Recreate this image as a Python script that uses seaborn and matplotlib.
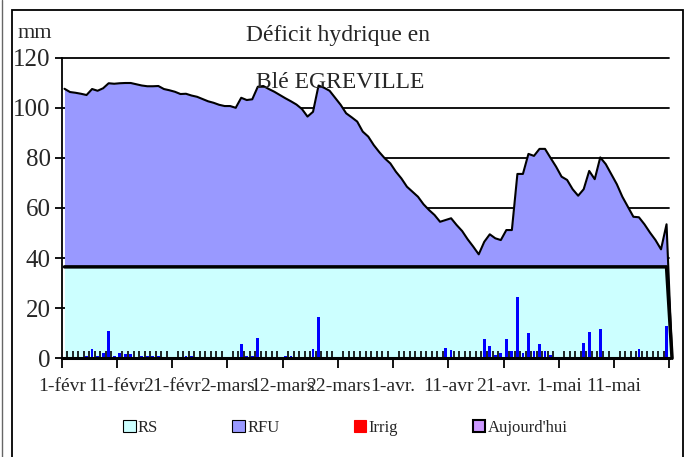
import numpy as np
import matplotlib
matplotlib.use("Agg")
import matplotlib.pyplot as plt
import seaborn as sns
from matplotlib.patches import Patch, Rectangle
from matplotlib.lines import Line2D

# ---- data (daily, 1 Feb -> 21 May) ----
day_index = list(range(111))

total_reserve = [
    107.6, 106.3, 106.0, 105.6, 105.1, 107.5, 106.8, 107.8, 109.8, 109.6,
    109.8, 109.9, 109.9, 109.4, 108.9, 108.6, 108.6, 108.7, 107.5, 107.0,
    106.4, 105.5, 105.6, 104.9, 104.4, 103.5, 102.6, 102.0, 101.2, 100.7,
    100.7, 100.0, 104.0, 103.1, 103.4, 108.4, 108.7, 107.5, 106.4, 105.1,
    103.8, 102.6, 101.3, 99.5, 96.5, 98.4, 108.9, 108.0, 106.8, 104.0,
    101.2, 97.8, 96.2, 94.5, 90.5, 88.5, 85.1, 82.3, 79.8, 77.8,
    74.5, 71.8, 68.5, 66.5, 64.5, 61.5, 59.2, 57.2, 54.5, 55.2,
    55.9, 53.2, 50.8, 47.5, 44.6, 41.5, 46.5, 49.5, 47.9, 47.2,
    51.2, 51.2, 73.6, 73.6, 81.6, 80.8, 83.6, 83.6, 80.0, 76.5,
    72.5, 71.2, 67.5, 64.9, 67.5, 74.8, 71.5, 80.2, 77.5, 73.5,
    69.5, 64.5, 60.5, 56.5, 56.3, 53.5, 50.2, 47.2, 43.5, 53.5,
    0.0,
]

rs_values = [36.5] * 110 + [0.0]

rain = [
    0, 0.5, 0, 0, 0.8, 3.6, 0.8, 2.2, 11.0, 0.8,
    2.2, 1.6, 1.6, 0, 0.8, 0.8, 0.8, 0.8, 0, 0,
    0, 0, 0.8, 0.8, 0, 0, 0, 0, 0.6, 0.6,
    0, 0, 5.6, 0.8, 0.8, 8.2, 0, 0, 0, 0.6,
    0.8, 0.8, 0.6, 0, 0, 3.6, 16.4, 0, 0.6, 0,
    0, 0, 0, 0.6, 0, 0, 0, 0, 0, 0,
    0, 0, 0.6, 0.6, 0, 0, 0.6, 0.6, 0, 4.0,
    3.3, 0.6, 0, 0, 0, 0, 7.6, 4.9, 1.3, 2.0,
    7.6, 2.9, 24.4, 2.1, 10.2, 2.9, 5.6, 2.9, 1.3, 0,
    0, 0, 0.6, 0, 6.2, 10.4, 0, 11.6, 0, 0,
    0, 0, 0.6, 0, 3.6, 0, 0.6, 0, 0.6, 12.9,
    0,
]

tick_labels = ["1-févr", "11-févr", "21-févr", "2-mars", "12-mars", "22-mars",
               "1-avr.", "11-avr", "21-avr.", "1-mai", "11-mai", ""]
y_ticks = [0, 20, 40, 60, 80, 100, 120]

legend_names = ["RS", "RFU", "Irrig", "Aujourd'hui"]
legend_colors = ["#CCFFFF", "#9999FF", "#FF0000", "#CC99FF"]

# ---- style ----
sns.set_style("white")
plt.rcParams["font.family"] = ["Liberation Serif", "DejaVu Serif"]

W, H = 691, 457
fig = plt.figure(figsize=(W / 100, H / 100), dpi=100)
left, right, top, bottom = 61.7, 669.3, 57.7, 358.3
ax = fig.add_axes([left / W, 1 - bottom / H, (right - left) / W, (bottom - top) / H])
ax.set_axisbelow(False)

# gridlines behind everything
for yv in y_ticks[1:]:
    ax.axhline(yv, color="black", lw=1.3, zorder=0.5)

ax.fill_between(day_index, 0, rs_values, color=legend_colors[0], lw=0, zorder=1, clip_on=False)
ax.fill_between(day_index, rs_values, total_reserve, color=legend_colors[1], lw=0, zorder=1, clip_on=False)

sns.barplot(x=day_index, y=rain, native_scale=True, color="#0000FF", saturation=1,
            width=0.5, linewidth=0, edgecolor="#0000FF", ax=ax, zorder=2)

sns.lineplot(x=day_index, y=total_reserve, color="black", lw=1.5, ax=ax, zorder=3)
sns.lineplot(x=day_index, y=rs_values, color="black", lw=2.5, ax=ax, zorder=3)
for ln in ax.lines:
    ln.set_clip_on(False)

ax.set_xlim(-0.5, 109.5)
ax.set_ylim(0, 120)
major = [-0.5 + 10 * k for k in range(12)]
minor = [-0.5 + k for k in range(111)]
ax.set_xticks(major)
ax.set_xticklabels(tick_labels, fontsize=14)
ax.set_xticks(minor, minor=True)
ax.set_yticks(y_ticks)
ax.set_yticklabels([str(v) for v in y_ticks], fontsize=18)
ax.set_xlabel("")
ax.set_ylabel("")

ax.tick_params(axis="x", which="major", direction="out", length=7, width=1.3, pad=7, color="black")
ax.tick_params(axis="x", which="minor", direction="in", length=5, width=1.2, color="black",
               bottom=True)
ax.tick_params(axis="y", which="major", direction="out", length=5, width=1.3, pad=3, color="black")
ax.tick_params(left=True, bottom=True)

for s in ["top", "right"]:
    ax.spines[s].set_visible(False)
ax.spines["left"].set_color("black")
ax.spines["left"].set_linewidth(1.3)
ax.spines["bottom"].set_color("black")
ax.spines["bottom"].set_linewidth(2.2)

# texts
fig.text(35 / W, 1 - 33 / H, "mm", fontsize=16, ha="center", va="center")
fig.text(338 / W, 1 - 35 / H, "Déficit hydrique en", fontsize=17, ha="center", va="center")
fig.text(340 / W, 1 - 82 / H, "Blé EGREVILLE", fontsize=17, ha="center", va="center")

# legend
handles = [
    Patch(facecolor=legend_colors[0], edgecolor="black", lw=0.8),
    Patch(facecolor=legend_colors[1], edgecolor="black", lw=0.8),
    Patch(facecolor=legend_colors[2], edgecolor=legend_colors[2], lw=0.8),
    Patch(facecolor=legend_colors[3], edgecolor="black", lw=1.5),
]
fig.legend(handles, legend_names, loc="center left", bbox_to_anchor=(123 / W, 1 - 428 / H),
           ncol=4, frameon=False, fontsize=12, handlelength=0.75, handleheight=0.75,
           handletextpad=0.15, columnspacing=4.45, borderpad=0, borderaxespad=0)

# outer frame
fig.add_artist(Rectangle((12 / W, -0.02), (683.3 - 12) / W, (1 - 10 / H) + 0.02,
                         transform=fig.transFigure, fill=False, ec="black", lw=1.3))
fig.add_artist(Line2D([1.7 / W, 1.7 / W], [0, 1], transform=fig.transFigure, color="#666666", lw=1))

fig.savefig("out.png", dpi=100)
